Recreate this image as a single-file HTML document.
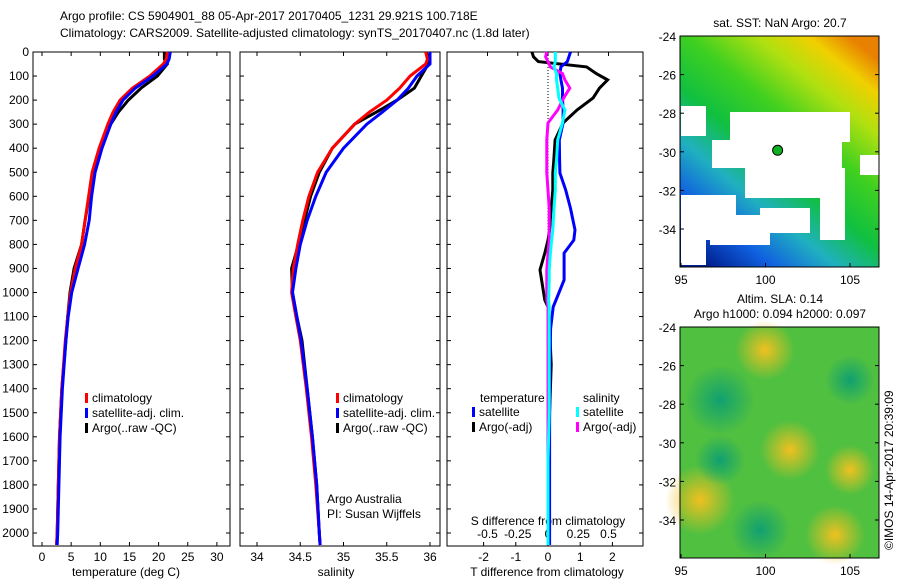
<!DOCTYPE html>
<html><head><meta charset="utf-8"><style>
body{margin:0;background:#fff}
svg{font-family:"Liberation Sans",sans-serif;font-size:12px}
</style></head><body>
<svg id="c" width="900" height="580" viewBox="0 0 900 580">
<defs>
<linearGradient id="sst" x1="0.15" y1="1" x2="0.85" y2="0">
<stop offset="0" stop-color="#002090"/><stop offset="0.15" stop-color="#1060e0"/><stop offset="0.3" stop-color="#20b0c0"/><stop offset="0.45" stop-color="#10c040"/><stop offset="0.62" stop-color="#40d020"/><stop offset="0.78" stop-color="#b0e010"/><stop offset="0.9" stop-color="#f0d000"/><stop offset="1" stop-color="#e88000"/>
</linearGradient>
<radialGradient id="yb"><stop offset="0" stop-color="#f0c020"/><stop offset="1" stop-color="#f0c020" stop-opacity="0"/></radialGradient>
<radialGradient id="tb"><stop offset="0" stop-color="#10a070"/><stop offset="1" stop-color="#10a070" stop-opacity="0"/></radialGradient>
</defs>
<text x="60" y="20">Argo profile: CS 5904901_88 05-Apr-2017 20170405_1231 29.921S 100.718E</text>
<text x="60" y="37">Climatology: CARS2009. Satellite-adjusted climatology: synTS_20170407.nc (1.8d later)</text>
<g id="g"></g>
</svg>
<script>
const depths=[0,30,50,100,150,200,250,300,400,500,600,700,800,900,1000,1100,1200,1400,1600,1800,2000,2050];
const tempClim=[21.5,21.3,20.8,18.5,15.5,13.4,12.2,11.3,9.8,8.6,8.0,7.4,6.8,5.7,4.9,4.4,4.0,3.4,3.0,2.8,2.6,2.5];
const tempSat=[22,21.8,21.4,19.0,16.0,13.9,12.7,11.8,10.3,9.1,8.5,8.1,7.3,6.2,5.1,4.5,4.1,3.5,3.1,2.9,2.7,2.6];
const tempArgo=[21,21.0,21.5,19.8,17.0,14.8,13.1,11.8,10.1,8.8,8.1,7.4,6.8,5.5,4.8,4.4,4.1,3.4,3.0,2.8,2.6,2.5];
const salClim=[35.95,35.97,35.95,35.77,35.65,35.5,35.3,35.13,34.87,34.7,34.6,34.53,34.47,34.42,34.4,34.45,34.5,34.57,34.63,34.68,34.72,34.73];
const salSat=[36.0,36.0,36.0,35.85,35.75,35.62,35.45,35.27,35.0,34.8,34.68,34.58,34.5,34.45,34.41,34.46,34.51,34.58,34.64,34.69,34.72,34.73];
const salArgo=[35.95,36.0,35.98,35.9,35.82,35.62,35.38,35.13,34.87,34.72,34.62,34.55,34.48,34.4,34.41,34.46,34.52,34.58,34.64,34.69,34.72,34.73];
const dDepths=[0,20,40,62,90,116,150,191,241,295,366,450,503,574,650,740,782,836,906,948,1031,1060,1150,1300,1500,1700,1900,2050];
const tDiffArgo=[-0.5,-0.45,-0.3,1.2,1.5,1.85,1.6,1.4,0.9,0.47,0.22,0.18,0.15,0.15,0.1,0.05,0,-0.1,-0.25,-0.2,-0.1,0.0,0.05,0.1,0.05,0.03,0.0,0.0];
const tDiffSat=[0.7,0.65,0.6,0.4,0.37,0.4,0.45,0.45,0.47,0.47,0.35,0.36,0.37,0.55,0.7,0.84,0.8,0.5,0.5,0.5,0.25,0.16,0.08,0.06,0.05,0.05,0.05,0.05];
const sDiffSat=[0.06,0.06,0.06,0.05,0.07,0.07,0.08,0.09,0.14,0.12,0.08,0.07,0.06,0.06,0.05,0.04,0.03,0.02,0.01,0.01,0.005,0.01,0.01,0.01,0.01,0.0,0.0,0.0];
const sDiffArgo=[-0.01,-0.02,0.0,0.02,0.12,0.14,0.18,0.13,0.08,0.0,-0.01,-0.01,-0.01,0.0,0.01,0.01,0.01,0.0,-0.01,-0.01,-0.01,0.0,0.0,0.0,0.0,0.0,0.0,0.0];
const depthTicks=[0,100,200,300,400,500,600,700,800,900,1000,1100,1200,1300,1400,1500,1600,1700,1800,1900,2000];
const tTicks=[0,5,10,15,20,25,30];
const sTicks=[34,34.5,35,35.5,36];
const tdTicks=[-2,-1,0,1,2];
const sdTicks=[-0.5,-0.25,0,0.25,0.5];
const sdLabels=["-0.5","-0.25","0","0.25","0.5"];
const lonTicks=[95,100,105];
const latTicks=[-24,-26,-28,-30,-32,-34];

const NS="http://www.w3.org/2000/svg";
const G=document.getElementById('g');
function mk(t,a,p){const e=document.createElementNS(NS,t);for(const k in a)e.setAttribute(k,a[k]);(p||G).appendChild(e);return e;}
const yD=d=>52+d*0.2405;
const xT=v=>42+v*5.83;
const xS=v=>257+(v-34)*86.5;
const xTD=v=>548+v*32.2;
const xSD=v=>548+v*121;
const TOP=52,BOT=546;

function panel(x0,x1,name){
  const r=mk('rect',{x:x0,y:TOP,width:x1-x0,height:BOT-TOP,fill:'none',stroke:'#000'});
  
  
  depthTicks.forEach(d=>{mk('line',{x1:x0,x2:x0+4,y1:yD(d),y2:yD(d),stroke:'#000'});mk('line',{x1:x1,x2:x1-4,y1:yD(d),y2:yD(d),stroke:'#000'});});
}
panel(33,230,'temperature-panel');panel(240,440,'salinity-panel');panel(447,643,'difference-panel');
depthTicks.forEach(d=>{const t=mk('text',{x:29,y:yD(d)+4,'text-anchor':'end'});t.textContent=d;

});
function xticks(arr,fx,y,up,labels,ly){arr.forEach((v,i)=>{const x=fx(v);mk('line',{x1:x,x2:x,y1:y,y2:y+(up?-4:4),stroke:'#000'});
if(labels){const t=mk('text',{x:x,y:ly,'text-anchor':'middle'});t.textContent=labels[i];

}});}
xticks(tTicks,xT,BOT,true,tTicks,561);xticks(tTicks,xT,TOP,false);
xticks(sTicks,xS,BOT,true,sTicks,561);xticks(sTicks,xS,TOP,false);
xticks(tdTicks,xTD,BOT,true,tdTicks,561);xticks(sdTicks,xSD,TOP,false);
sdTicks.forEach((v,i)=>{const t=mk('text',{x:xSD(v),y:538,'text-anchor':'middle'});t.textContent=sdLabels[i];

});
function lbl(x,y,s,name,anchor){const t=mk('text',{x:x,y:y,'text-anchor':anchor||'middle'});t.textContent=s;

return t;}
lbl(126,576,'temperature (deg C)','temperature-axis-title');
lbl(336,576,'salinity','salinity-axis-title');
lbl(547,576,'T difference from climatology','t-diff-axis-title');
lbl(548,525,'S difference from climatology','s-diff-axis-title');
lbl(327,503,'Argo Australia','agency-label','start');
lbl(327,518,'PI: Susan Wijffels','pi-label','start');
mk('line',{x1:548,x2:548,y1:TOP,y2:BOT,stroke:'#000','stroke-dasharray':'1,2'});
function line(ds,vs,fx,col,name){const p=mk('polyline',{points:ds.map((d,i)=>fx(vs[i]).toFixed(1)+','+Math.min(yD(d),BOT).toFixed(1)).join(' '),fill:'none',stroke:col,'stroke-width':3});

}
line(depths,tempArgo,xT,'#000','temp-argo-line');line(depths,tempClim,xT,'#f00','temp-clim-line');line(depths,tempSat,xT,'#00f','temp-sat-line');
line(depths,salArgo,xS,'#000','sal-argo-line');line(depths,salClim,xS,'#f00','sal-clim-line');line(depths,salSat,xS,'#00f','sal-sat-line');
line(dDepths,tDiffArgo,xTD,'#000','tdiff-argo-line');line(dDepths,tDiffSat,xTD,'#00f','tdiff-sat-line');
line(dDepths,sDiffArgo,xSD,'#f0f','sdiff-argo-line');line(dDepths,sDiffSat,xSD,'#0ff','sdiff-sat-line');
function leg(x,y,col,s,name){mk('rect',{x:x,y:y-9,width:3,height:10,fill:col});lbl(x+7,y,s,name,'start');}
[[85,'#f00','climatology'],[85,'#00f','satellite-adj. clim.'],[85,'#000','Argo(..raw -QC)']].forEach((e,i)=>leg(e[0],402+i*15,e[1],e[2],'legend-entry'));
[[336,'#f00','climatology'],[336,'#00f','satellite-adj. clim.'],[336,'#000','Argo(..raw -QC)']].forEach((e,i)=>leg(e[0],402+i*15,e[1],e[2],'legend-entry'));
lbl(480,402,'temperature','legend-title-temperature','start');lbl(583,402,'salinity','legend-title-salinity','start');
leg(472,416,'#00f','satellite','legend-entry');leg(472,431,'#000','Argo(-adj)','legend-entry');
leg(576,416,'#0ff','satellite','legend-entry');leg(576,431,'#f0f','Argo(-adj)','legend-entry');
// maps
const xL=v=>681+(v-95)*16.9;
function map(y0,name,title,title2){
  const yL=v=>y0+(-24-v)*19.3;
  lbl(780,y0-9-(title2?15:0),title,'map-title');if(title2)lbl(780,y0-9,title2,'map-subtitle');
  const r=mk('rect',{x:680,y:y0,width:199,height:231,fill:'none',stroke:'#000'});
  
  
  latTicks.forEach(v=>{mk('line',{x1:680,x2:684,y1:yL(v),y2:yL(v),stroke:'#000'});mk('line',{x1:875,x2:879,y1:yL(v),y2:yL(v),stroke:'#000'});
  const t=mk('text',{x:676,y:yL(v)+5,'text-anchor':'end'});t.textContent=v;
  
  });
  lonTicks.forEach(v=>{mk('line',{x1:xL(v),x2:xL(v),y1:y0+231,y2:y0+227,stroke:'#000'});
  const t=mk('text',{x:xL(v),y:y0+248,'text-anchor':'middle'});t.textContent=v;
  
  });
  return yL;
}
mk('rect',{x:680,y:36,width:199,height:231,fill:'url(#sst)'});
[[681,106,25,30],[730,112,120,30],[712,140,130,28],[745,168,100,30],[681,195,55,45],[710,215,60,30],[820,180,25,60],[760,208,50,25],[860,155,19,20],[681,240,25,25]].forEach(p=>mk('rect',{x:p[0],y:p[1],width:p[2],height:p[3],fill:'#fff'}));
map(36,'sst-map','sat. SST: NaN Argo: 20.7');
mk('circle',{cx:xL(100.718),cy:36+5.921*19.3,r:5,fill:'#10b020',stroke:'#000'});
mk('rect',{x:680,y:327,width:199,height:231,fill:'#50c040'});
[[765,350,30,'url(#yb)'],[700,500,35,'url(#yb)'],[835,535,30,'url(#yb)'],[790,450,30,'url(#yb)'],[850,470,25,'url(#yb)'],[720,400,35,'url(#tb)'],[850,380,25,'url(#tb)'],[760,530,30,'url(#tb)'],[720,460,25,'url(#tb)']].forEach(b=>mk('circle',{cx:b[0],cy:b[1],r:b[2],fill:b[3]}));
map(327,'altimetry-map','Altim. SLA: 0.14','Argo h1000: 0.094 h2000: 0.097');
const c=mk('text',{x:893,y:550,transform:'rotate(-90 893 550)'});c.textContent='©IMOS 14-Apr-2017 20:39:09';


</script>
</body></html>
